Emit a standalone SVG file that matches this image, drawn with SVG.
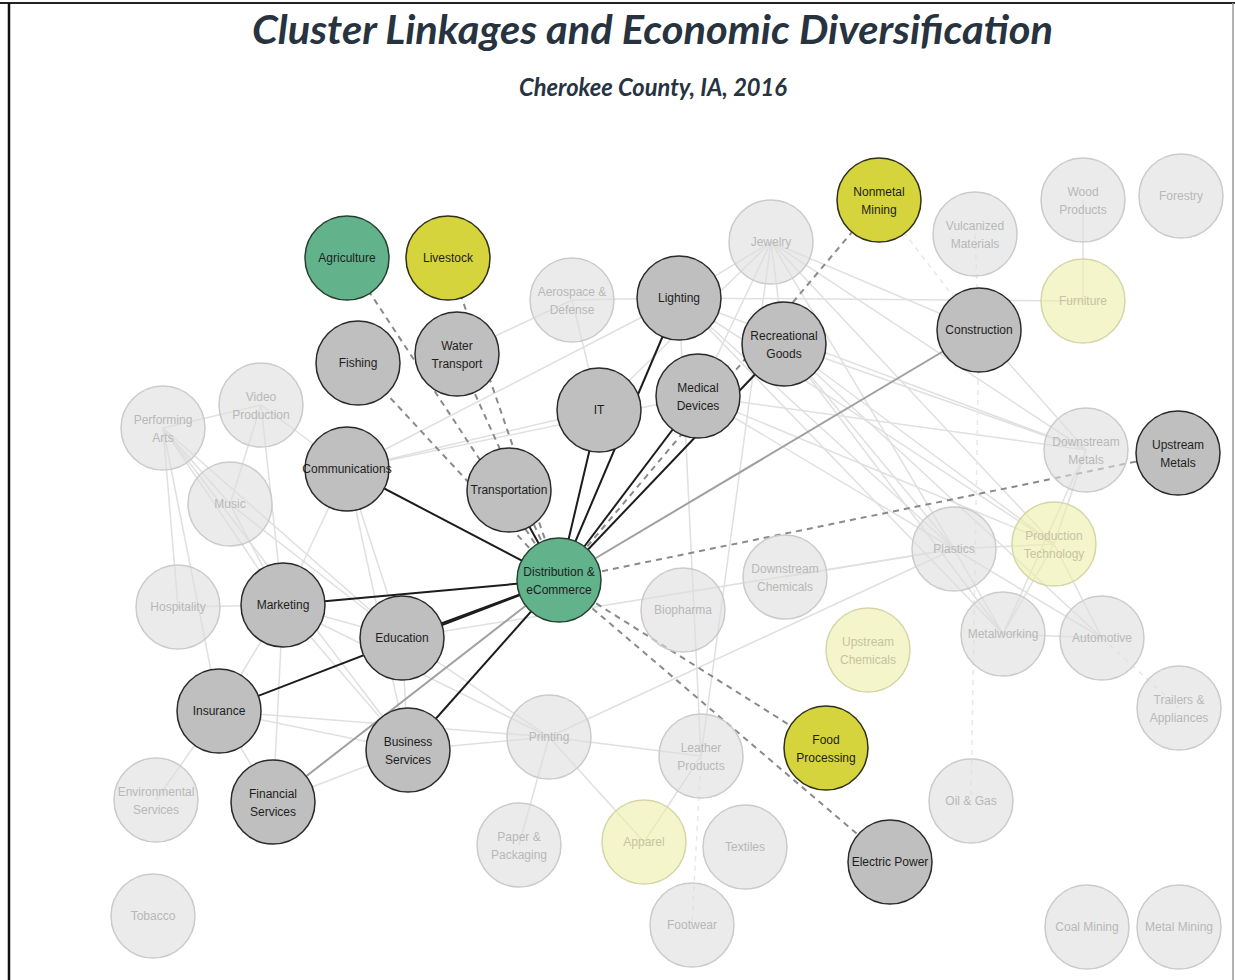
<svg xmlns="http://www.w3.org/2000/svg" width="1235" height="980" viewBox="0 0 1235 980">
<style>
.l{stroke:#e0e0e0;stroke-width:1.5;fill:none}
.lf{stroke:#e8e8e8;stroke-width:1.5;stroke-dasharray:5 5;fill:none}
.m{stroke:#a0a0a0;stroke-width:2}
.d{stroke:#8a8a8a;stroke-width:2;stroke-dasharray:6 5}
.s{stroke:#1c1c1c;stroke-width:2}
circle{stroke-width:1.5}
.act circle{fill:#bfbfbf;stroke:#2a2a2a}
.grn circle{fill:#62b28c;stroke:#25402f}
.yel circle{fill:#d5d43c;stroke:#2f2f1a}
.ina circle{fill:#dedede;fill-opacity:0.6;stroke:#cbcbcb}
.pal circle{fill:#eeeeaa;fill-opacity:0.6;stroke:#d6d6a8}
.nt{font-family:"Liberation Sans",Arial,sans-serif;font-size:12px;text-anchor:middle}
.act text,.grn text,.yel text{fill:#1e1e1e}
.ina text{fill:#b8b8b8}
.pal text{fill:#c4c4a0}
.title{font-family:Lato,"Open Sans",sans-serif;font-style:italic;font-weight:bold;fill:#27333f;text-anchor:start}
.t1{font-size:41px}
.t2{font-size:24px}
</style>
<rect x="0" y="0" width="1235" height="980" fill="#ffffff"/>
<g id="frame">
<line x1="0" y1="3" x2="1235" y2="3" stroke="#222" stroke-width="2"/>
<line x1="9" y1="3" x2="9" y2="980" stroke="#111" stroke-width="2.5"/>
<line x1="1233" y1="3" x2="1233" y2="980" stroke="#9a9a9a" stroke-width="1.5"/>
</g>
<text class="title t1" x="252" y="44" textLength="801" lengthAdjust="spacingAndGlyphs">Cluster Linkages and Economic Diversification</text>
<text class="title t2" x="519" y="96" textLength="268" lengthAdjust="spacingAndGlyphs">Cherokee County, IA, 2016</text>

<g id="connectors">
<g id="light-links">
<line class="l" x1="163" y1="428" x2="261" y2="405"/>
<line class="l" x1="163" y1="428" x2="230" y2="504"/>
<line class="l" x1="163" y1="428" x2="283" y2="605"/>
<line class="l" x1="163" y1="428" x2="402" y2="638"/>
<line class="l" x1="163" y1="428" x2="408" y2="750"/>
<line class="l" x1="163" y1="428" x2="178" y2="607"/>
<line class="l" x1="163" y1="428" x2="219" y2="711"/>
<line class="l" x1="261" y1="405" x2="230" y2="504"/>
<line class="l" x1="261" y1="405" x2="347" y2="469"/>
<line class="l" x1="261" y1="405" x2="283" y2="605"/>
<line class="l" x1="230" y1="504" x2="283" y2="605"/>
<line class="l" x1="230" y1="504" x2="402" y2="638"/>
<line class="l" x1="178" y1="607" x2="283" y2="605"/>
<line class="l" x1="347" y1="469" x2="283" y2="605"/>
<line class="l" x1="347" y1="469" x2="402" y2="638"/>
<line class="l" x1="347" y1="469" x2="599" y2="410"/>
<line class="l" x1="347" y1="469" x2="679" y2="298"/>
<line class="l" x1="347" y1="469" x2="698" y2="396"/>
<line class="l" x1="347" y1="469" x2="408" y2="750"/>
<line class="l" x1="283" y1="605" x2="402" y2="638"/>
<line class="l" x1="283" y1="605" x2="219" y2="711"/>
<line class="l" x1="283" y1="605" x2="273" y2="802"/>
<line class="l" x1="283" y1="605" x2="408" y2="750"/>
<line class="l" x1="283" y1="605" x2="549" y2="737"/>
<line class="l" x1="402" y1="638" x2="408" y2="750"/>
<line class="l" x1="402" y1="638" x2="549" y2="737"/>
<line class="l" x1="402" y1="638" x2="954" y2="549"/>
<line class="l" x1="219" y1="711" x2="408" y2="750"/>
<line class="l" x1="219" y1="711" x2="549" y2="737"/>
<line class="l" x1="219" y1="711" x2="273" y2="802"/>
<line class="l" x1="219" y1="711" x2="156" y2="800"/>
<line class="l" x1="273" y1="802" x2="408" y2="750"/>
<line class="l" x1="408" y1="750" x2="549" y2="737"/>
<line class="l" x1="549" y1="737" x2="701" y2="756"/>
<line class="l" x1="549" y1="737" x2="519" y2="845"/>
<line class="l" x1="549" y1="737" x2="644" y2="842"/>
<line class="l" x1="549" y1="737" x2="954" y2="549"/>
<line class="l" x1="701" y1="756" x2="644" y2="842"/>
<line class="l" x1="701" y1="756" x2="679" y2="298"/>
<line class="l" x1="701" y1="756" x2="771" y2="242"/>
<line class="l" x1="572" y1="300" x2="679" y2="298"/>
<line class="l" x1="572" y1="300" x2="599" y2="410"/>
<line class="l" x1="457" y1="354" x2="572" y2="300"/>
<line class="l" x1="771" y1="242" x2="679" y2="298"/>
<line class="l" x1="771" y1="242" x2="698" y2="396"/>
<line class="l" x1="771" y1="242" x2="784" y2="344"/>
<line class="l" x1="771" y1="242" x2="599" y2="410"/>
<line class="l" x1="771" y1="242" x2="954" y2="549"/>
<line class="l" x1="771" y1="242" x2="1054" y2="544"/>
<line class="l" x1="771" y1="242" x2="1086" y2="450"/>
<line class="l" x1="771" y1="242" x2="979" y2="330"/>
<line class="l" x1="679" y1="298" x2="1086" y2="450"/>
<line class="l" x1="679" y1="298" x2="954" y2="549"/>
<line class="l" x1="679" y1="298" x2="1054" y2="544"/>
<line class="l" x1="679" y1="298" x2="1003" y2="634"/>
<line class="l" x1="679" y1="298" x2="1083" y2="301"/>
<line class="l" x1="784" y1="344" x2="954" y2="549"/>
<line class="l" x1="784" y1="344" x2="1054" y2="544"/>
<line class="l" x1="784" y1="344" x2="1003" y2="634"/>
<line class="l" x1="784" y1="344" x2="1102" y2="638"/>
<line class="l" x1="784" y1="344" x2="1086" y2="450"/>
<line class="l" x1="698" y1="396" x2="954" y2="549"/>
<line class="l" x1="698" y1="396" x2="1054" y2="544"/>
<line class="l" x1="698" y1="396" x2="1086" y2="450"/>
<line class="l" x1="979" y1="330" x2="1086" y2="450"/>
<line class="l" x1="1083" y1="200" x2="1083" y2="301"/>
<line class="l" x1="1086" y1="450" x2="1054" y2="544"/>
<line class="l" x1="1086" y1="450" x2="1003" y2="634"/>
<line class="l" x1="954" y1="549" x2="1054" y2="544"/>
<line class="l" x1="954" y1="549" x2="1003" y2="634"/>
<line class="l" x1="954" y1="549" x2="1102" y2="638"/>
<line class="l" x1="954" y1="549" x2="785" y2="577"/>
<line class="l" x1="1054" y1="544" x2="1003" y2="634"/>
<line class="l" x1="1054" y1="544" x2="1102" y2="638"/>
<line class="l" x1="1003" y1="634" x2="1102" y2="638"/>
</g>
<g id="faint-dashed-links">
<line class="lf" x1="975" y1="234" x2="979" y2="330"/>
<line class="lf" x1="979" y1="330" x2="971" y2="801"/>
<line class="lf" x1="879" y1="200" x2="979" y2="330"/>
<line class="lf" x1="1102" y1="638" x2="1179" y2="708"/>
<line class="lf" x1="701" y1="756" x2="692" y2="925"/>
</g>
<g id="medium-links">
<line class="m" x1="559" y1="580" x2="979" y2="330"/>
<line class="m" x1="559" y1="580" x2="273" y2="802"/>
</g>
<g id="dashed-links">
<line class="d" x1="559" y1="580" x2="347" y2="258"/>
<line class="d" x1="559" y1="580" x2="448" y2="258"/>
<line class="d" x1="559" y1="580" x2="358" y2="363"/>
<line class="d" x1="559" y1="580" x2="457" y2="354"/>
<line class="d" x1="559" y1="580" x2="879" y2="200"/>
<line class="d" x1="559" y1="580" x2="1178" y2="453"/>
<line class="d" x1="559" y1="580" x2="826" y2="748"/>
<line class="d" x1="559" y1="580" x2="890" y2="862"/>
</g>
<g id="strong-links">
<line class="s" x1="559" y1="580" x2="347" y2="469"/>
<line class="s" x1="559" y1="580" x2="509" y2="490"/>
<line class="s" x1="559" y1="580" x2="599" y2="410"/>
<line class="s" x1="559" y1="580" x2="679" y2="298"/>
<line class="s" x1="559" y1="580" x2="698" y2="396"/>
<line class="s" x1="559" y1="580" x2="784" y2="344"/>
<line class="s" x1="559" y1="580" x2="283" y2="605"/>
<line class="s" x1="559" y1="580" x2="402" y2="638"/>
<line class="s" x1="559" y1="580" x2="219" y2="711"/>
<line class="s" x1="559" y1="580" x2="408" y2="750"/>
</g>
</g>

<g id="nodes" class="nt">
<g id="n-agriculture" class="grn"><circle cx="347" cy="258" r="42"/><text x="347" y="262">Agriculture</text></g>
<g id="n-livestock" class="yel"><circle cx="448" cy="258" r="42"/><text x="448" y="262">Livestock</text></g>
<g id="n-nonmetal-mining" class="yel"><circle cx="879" cy="200" r="42"/><text x="879" y="196">Nonmetal</text><text x="879" y="214">Mining</text></g>
<g id="n-jewelry" class="ina"><circle cx="771" cy="242" r="42"/><text x="771" y="246">Jewelry</text></g>
<g id="n-vulcanized" class="ina"><circle cx="975" cy="234" r="42"/><text x="975" y="230">Vulcanized</text><text x="975" y="248">Materials</text></g>
<g id="n-wood-products" class="ina"><circle cx="1083" cy="200" r="42"/><text x="1083" y="196">Wood</text><text x="1083" y="214">Products</text></g>
<g id="n-forestry" class="ina"><circle cx="1181" cy="196" r="42"/><text x="1181" y="200">Forestry</text></g>
<g id="n-furniture" class="pal"><circle cx="1083" cy="301" r="42"/><text x="1083" y="305">Furniture</text></g>
<g id="n-construction" class="act"><circle cx="979" cy="330" r="42"/><text x="979" y="334">Construction</text></g>
<g id="n-aerospace" class="ina"><circle cx="572" cy="300" r="42"/><text x="572" y="296">Aerospace &amp;</text><text x="572" y="314">Defense</text></g>
<g id="n-lighting" class="act"><circle cx="679" cy="298" r="42"/><text x="679" y="302">Lighting</text></g>
<g id="n-recreational-goods" class="act"><circle cx="784" cy="344" r="42"/><text x="784" y="340">Recreational</text><text x="784" y="358">Goods</text></g>
<g id="n-fishing" class="act"><circle cx="358" cy="363" r="42"/><text x="358" y="367">Fishing</text></g>
<g id="n-water-transport" class="act"><circle cx="457" cy="354" r="42"/><text x="457" y="350">Water</text><text x="457" y="368">Transport</text></g>
<g id="n-video-production" class="ina"><circle cx="261" cy="405" r="42"/><text x="261" y="401">Video</text><text x="261" y="419">Production</text></g>
<g id="n-performing-arts" class="ina"><circle cx="163" cy="428" r="42"/><text x="163" y="424">Performing</text><text x="163" y="442">Arts</text></g>
<g id="n-it" class="act"><circle cx="599" cy="410" r="42"/><text x="599" y="414">IT</text></g>
<g id="n-medical-devices" class="act"><circle cx="698" cy="396" r="42"/><text x="698" y="392">Medical</text><text x="698" y="410">Devices</text></g>
<g id="n-communications" class="act"><circle cx="347" cy="469" r="42"/><text x="347" y="473">Communications</text></g>
<g id="n-music" class="ina"><circle cx="230" cy="504" r="42"/><text x="230" y="508">Music</text></g>
<g id="n-transportation" class="act"><circle cx="509" cy="490" r="42"/><text x="509" y="494">Transportation</text></g>
<g id="n-downstream-metals" class="ina"><circle cx="1086" cy="450" r="42"/><text x="1086" y="446">Downstream</text><text x="1086" y="464">Metals</text></g>
<g id="n-upstream-metals" class="act"><circle cx="1178" cy="453" r="42"/><text x="1178" y="449">Upstream</text><text x="1178" y="467">Metals</text></g>
<g id="n-plastics" class="ina"><circle cx="954" cy="549" r="42"/><text x="954" y="553">Plastics</text></g>
<g id="n-production-technology" class="pal"><circle cx="1054" cy="544" r="42"/><text x="1054" y="540">Production</text><text x="1054" y="558">Technology</text></g>
<g id="n-distribution" class="grn"><circle cx="559" cy="580" r="42"/><text x="559" y="576">Distribution &amp;</text><text x="559" y="594">eCommerce</text></g>
<g id="n-downstream-chemicals" class="ina"><circle cx="785" cy="577" r="42"/><text x="785" y="573">Downstream</text><text x="785" y="591">Chemicals</text></g>
<g id="n-biopharma" class="ina"><circle cx="683" cy="610" r="42"/><text x="683" y="614">Biopharma</text></g>
<g id="n-hospitality" class="ina"><circle cx="178" cy="607" r="42"/><text x="178" y="611">Hospitality</text></g>
<g id="n-marketing" class="act"><circle cx="283" cy="605" r="42"/><text x="283" y="609">Marketing</text></g>
<g id="n-education" class="act"><circle cx="402" cy="638" r="42"/><text x="402" y="642">Education</text></g>
<g id="n-upstream-chemicals" class="pal"><circle cx="868" cy="650" r="42"/><text x="868" y="646">Upstream</text><text x="868" y="664">Chemicals</text></g>
<g id="n-metalworking" class="ina"><circle cx="1003" cy="634" r="42"/><text x="1003" y="638">Metalworking</text></g>
<g id="n-automotive" class="ina"><circle cx="1102" cy="638" r="42"/><text x="1102" y="642">Automotive</text></g>
<g id="n-trailers" class="ina"><circle cx="1179" cy="708" r="42"/><text x="1179" y="704">Trailers &amp;</text><text x="1179" y="722">Appliances</text></g>
<g id="n-insurance" class="act"><circle cx="219" cy="711" r="42"/><text x="219" y="715">Insurance</text></g>
<g id="n-business-services" class="act"><circle cx="408" cy="750" r="42"/><text x="408" y="746">Business</text><text x="408" y="764">Services</text></g>
<g id="n-printing" class="ina"><circle cx="549" cy="737" r="42"/><text x="549" y="741">Printing</text></g>
<g id="n-leather-products" class="ina"><circle cx="701" cy="756" r="42"/><text x="701" y="752">Leather</text><text x="701" y="770">Products</text></g>
<g id="n-food-processing" class="yel"><circle cx="826" cy="748" r="42"/><text x="826" y="744">Food</text><text x="826" y="762">Processing</text></g>
<g id="n-environmental-services" class="ina"><circle cx="156" cy="800" r="42"/><text x="156" y="796">Environmental</text><text x="156" y="814">Services</text></g>
<g id="n-financial-services" class="act"><circle cx="273" cy="802" r="42"/><text x="273" y="798">Financial</text><text x="273" y="816">Services</text></g>
<g id="n-oil-gas" class="ina"><circle cx="971" cy="801" r="42"/><text x="971" y="805">Oil &amp; Gas</text></g>
<g id="n-paper-packaging" class="ina"><circle cx="519" cy="845" r="42"/><text x="519" y="841">Paper &amp;</text><text x="519" y="859">Packaging</text></g>
<g id="n-apparel" class="pal"><circle cx="644" cy="842" r="42"/><text x="644" y="846">Apparel</text></g>
<g id="n-textiles" class="ina"><circle cx="745" cy="847" r="42"/><text x="745" y="851">Textiles</text></g>
<g id="n-electric-power" class="act"><circle cx="890" cy="862" r="42"/><text x="890" y="866">Electric Power</text></g>
<g id="n-tobacco" class="ina"><circle cx="153" cy="916" r="42"/><text x="153" y="920">Tobacco</text></g>
<g id="n-footwear" class="ina"><circle cx="692" cy="925" r="42"/><text x="692" y="929">Footwear</text></g>
<g id="n-coal-mining" class="ina"><circle cx="1087" cy="927" r="42"/><text x="1087" y="931">Coal Mining</text></g>
<g id="n-metal-mining" class="ina"><circle cx="1179" cy="927" r="42"/><text x="1179" y="931">Metal Mining</text></g>
</g>
</svg>
